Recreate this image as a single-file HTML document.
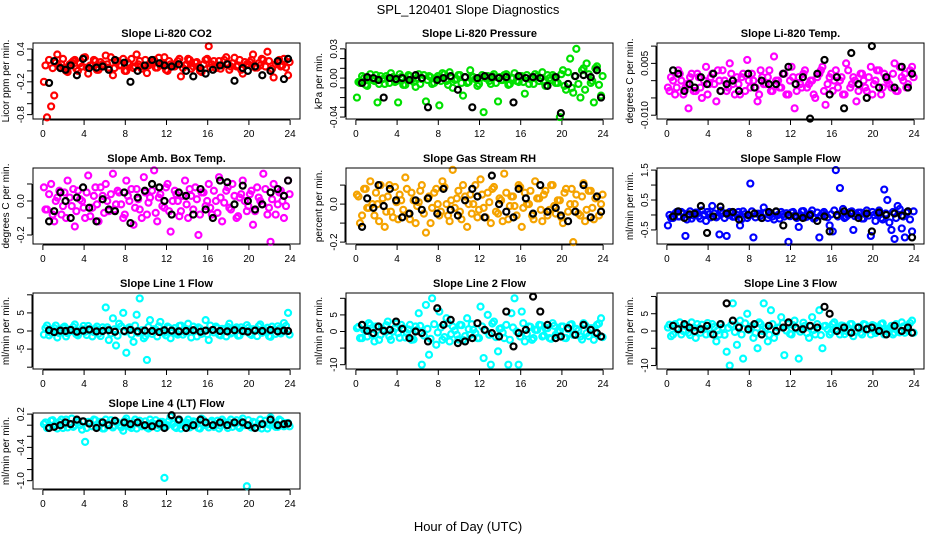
<!DOCTYPE html>
<html><head><meta charset="utf-8">
<style>
body{margin:0;background:#fff;}
svg{display:block;font-family:"Liberation Sans",sans-serif;}
</style></head>
<body>
<svg id="c" width="936" height="540" viewBox="0 0 936 540">
<text x="468" y="14" text-anchor="middle" font-size="13">SPL_120401  Slope Diagnostics</text>
<text x="468" y="531" text-anchor="middle" font-size="13">Hour of Day (UTC)</text>
</svg>
<script>
const hrs=[0.1,0.4,0.8,1.1,1.4,1.8,2.1,2.4,2.8,3.1,3.4,3.8,4.1,4.4,4.8,5.1,5.4,5.8,6.1,6.4,6.8,7.1,7.4,7.8,8.1,8.4,8.8,9.1,9.4,9.8,10.1,10.4,10.8,11.1,11.4,11.8,12.1,12.4,12.8,13.1,13.4,13.8,14.1,14.4,14.8,15.1,15.4,15.8,16.1,16.4,16.8,17.1,17.4,17.8,18.1,18.4,18.8,19.1,19.4,19.8,20.1,20.4,20.8,21.1,21.4,21.8,22.1,22.4,22.8,23.1,23.4,23.8];
const hrs2=[0.25,0.6,0.95,1.25,1.6,1.95,2.25,2.6,2.95,3.25,3.6,3.95,4.25,4.6,4.95,5.25,5.6,5.95,6.25,6.6,6.95,7.25,7.6,7.95,8.25,8.6,8.95,9.25,9.6,9.95,10.25,10.6,10.95,11.25,11.6,11.95,12.25,12.6,12.95,13.25,13.6,13.95,14.25,14.6,14.95,15.25,15.6,15.95,16.25,16.6,16.95,17.25,17.6,17.95,18.25,18.6,18.95,19.25,19.6,19.95,20.25,20.6,20.95,21.25,21.6,21.95,22.25,22.6,22.95,23.25,23.6,23.95];
const hrsB=[0.6,1.1,1.7,2.2,2.7,3.3,3.9,4.5,5.2,5.8,6.4,7.0,7.9,8.5,9.2,9.9,10.6,11.3,11.8,12.5,13.2,13.9,14.6,15.3,15.8,16.5,17.2,17.9,18.6,19.4,19.9,20.6,21.3,22.1,22.8,23.4,23.8];
const xTicks=[0,4,8,12,16,20,24];
const co2=[-0.2,-0.85,-0.65,-0.45,0.3,0.12,0.05,-0.02,0.15,0.2,0.0,0.08,0.25,-0.05,0.1,0.18,0.02,0.12,0.28,0.06,-0.08,0.15,0.1,0.22,0.0,0.12,0.05,0.3,0.18,0.08,-0.04,0.14,0.2,0.06,0.1,0.25,0.0,0.12,0.08,0.18,-0.1,0.1,0.22,0.04,0.15,0.08,-0.02,0.2,0.45,0.12,0.05,0.18,0.1,0.25,0.02,0.14,0.08,0.2,-0.05,0.12,0.16,0.3,0.06,0.1,0.2,0.35,0.0,-0.12,0.15,0.08,0.22,-0.08];
const co2b=[0.1,0.2,0.05,0.15,0.08,0.22,0.0,0.12,0.18,0.04,0.14,0.24,0.06,0.1,0.2,0.02,0.16,0.08,0.12,0.25,0.05,0.18,0.1,0.0,0.15,0.22,0.08,0.12,0.04,0.2,0.1,0.16,0.06,0.24,0.12,0.02,0.18,0.08,0.14,0.22,0.05,0.12,0.2,0.08,0.16,0.0,0.12,0.22,0.06,0.18,0.1,0.04,0.2,0.14,0.08,0.24,0.1,0.02,0.16,0.12,0.2,0.06,0.14,0.22,0.08,0.18,0.04,0.12,0.2,0.1,0.06,0.16];
const co2B=[-0.22,0.18,0.05,0.02,0.1,-0.08,0.22,0.05,0.06,0.08,0.02,0.2,0.15,-0.2,0.0,0.1,0.2,0.14,0.1,0.08,0.12,0.0,-0.1,0.05,-0.05,0.02,0.1,0.12,-0.18,0.05,0.0,0.08,-0.08,0.0,0.18,-0.15,0.22];
const pres=[-0.02,-0.005,0.0,-0.008,0.004,-0.003,-0.025,0.002,-0.006,0.0,0.005,-0.004,-0.025,0.001,-0.007,0.003,-0.002,-0.009,0.004,-0.001,-0.024,0.002,-0.006,0.0,-0.028,0.005,-0.003,0.006,-0.01,-0.001,0.003,-0.018,-0.005,0.008,0.001,-0.008,0.0,-0.035,0.002,-0.006,0.004,-0.024,-0.002,0.003,-0.007,0.0,0.005,-0.004,0.002,-0.016,-0.006,0.001,0.004,-0.003,0.006,-0.008,0.0,0.003,-0.005,-0.04,0.008,-0.012,0.02,-0.015,0.03,-0.02,0.01,0.015,-0.005,-0.025,0.012,-0.018];
const pres2=[-0.004,0.002,-0.007,0.0,-0.002,0.003,-0.006,-0.001,0.002,-0.005,0.001,-0.003,0.004,-0.007,-0.001,0.002,-0.004,0.0,-0.006,0.003,-0.002,0.001,-0.005,0.002,-0.003,0.004,-0.007,0.0,-0.002,0.003,-0.005,0.001,-0.004,0.002,-0.001,-0.006,0.003,0.0,-0.003,0.002,-0.005,0.001,-0.002,0.004,-0.006,0.0,-0.003,0.002,-0.004,0.003,-0.001,-0.006,0.002,0.0,-0.004,0.003,-0.002,0.001,-0.005,0.004,-0.008,0.006,-0.01,0.002,-0.006,0.008,-0.012,0.004,-0.003,0.01,-0.007,0.002];
const presB=[-0.005,0.001,0.0,-0.002,-0.02,0.0,-0.001,0.0,-0.002,0.003,0.0,-0.03,-0.002,0.0,0.002,-0.012,0.001,-0.03,0.0,0.002,0.001,0.0,0.001,-0.025,0.002,0.0,0.001,0.0,-0.008,0.001,-0.036,-0.006,0.002,0.003,0.001,0.008,-0.02];
const temp=[-0.002,0.001,-0.004,0.003,0.0,-0.002,-0.008,0.002,-0.003,0.001,-0.005,0.004,-0.001,0.002,-0.006,0.0,0.003,-0.003,0.005,-0.001,0.001,-0.004,0.002,0.006,-0.002,0.0,-0.006,0.003,-0.001,0.001,-0.003,0.007,0.0,-0.002,0.002,-0.004,0.004,-0.008,0.001,-0.002,0.003,-0.001,0.0,-0.005,0.002,0.004,-0.007,0.001,-0.003,0.003,0.0,-0.004,0.005,-0.002,0.001,-0.006,0.002,0.0,-0.003,0.004,-0.001,0.003,-0.004,0.002,0.0,-0.002,0.005,-0.003,0.001,0.002,-0.001,0.004];
const temp2=[-0.003,0.0,-0.002,0.002,-0.004,-0.001,0.001,-0.003,0.002,-0.002,0.0,-0.004,0.001,-0.001,0.003,-0.003,0.0,-0.002,0.002,-0.004,-0.001,0.001,-0.003,0.0,0.002,-0.002,-0.004,0.001,-0.001,0.003,-0.003,0.0,-0.002,0.002,-0.004,0.0,0.001,-0.003,-0.001,0.002,-0.002,0.0,-0.004,0.001,0.003,-0.003,-0.001,0.002,0.0,-0.002,0.001,-0.004,0.003,-0.001,0.0,-0.003,0.002,-0.002,0.001,-0.004,0.0,0.003,-0.002,0.001,-0.001,0.002,-0.003,0.004,0.0,-0.002,0.003,0.001];
const tempB=[0.003,0.002,-0.003,-0.001,-0.002,0.001,-0.001,0.002,-0.003,-0.001,0.0,-0.003,0.002,-0.002,0.0,-0.001,-0.001,0.002,0.004,-0.001,0.001,-0.011,0.002,0.006,-0.004,0.001,-0.008,0.008,-0.001,-0.005,0.01,-0.002,0.001,-0.002,0.004,-0.002,0.002];
const amb=[0.08,-0.05,0.1,-0.12,0.02,-0.08,0.05,0.12,-0.03,-0.15,0.06,0.0,-0.1,0.15,-0.04,0.08,-0.12,0.03,0.1,-0.06,0.16,-0.02,0.05,-0.1,0.12,0.0,-0.14,0.07,-0.05,0.14,-0.08,0.02,0.18,-0.12,0.04,-0.04,0.1,-0.18,0.06,0.0,-0.06,0.12,-0.1,0.03,0.08,-0.2,0.05,-0.03,0.1,-0.08,0.0,0.14,-0.12,0.06,-0.04,0.1,-0.1,0.02,0.12,-0.06,0.04,-0.14,0.08,0.0,0.16,-0.08,-0.24,0.1,-0.02,0.06,-0.1,0.12];
const amb2=[-0.05,0.04,-0.08,0.0,0.06,-0.03,-0.1,0.02,0.07,-0.06,0.01,-0.04,0.05,-0.09,0.03,-0.02,0.08,-0.07,0.0,0.04,-0.05,0.06,-0.02,-0.08,0.03,0.07,-0.04,0.01,-0.1,0.05,-0.01,0.06,-0.07,0.02,-0.03,0.08,-0.06,0.0,0.04,-0.09,0.03,-0.02,0.07,-0.05,0.01,-0.08,0.05,0.0,-0.04,0.06,-0.07,0.02,-0.01,0.08,-0.05,0.03,-0.09,0.04,0.0,-0.03,0.06,-0.06,0.02,-0.02,0.07,-0.04,0.01,-0.08,0.05,0.0,-0.03,0.04];
const ambB=[-0.12,-0.06,0.05,0.0,-0.1,0.02,0.08,-0.04,-0.12,0.01,-0.05,-0.06,0.05,-0.13,0.02,0.06,0.1,0.08,0.0,-0.08,0.05,0.03,-0.08,0.07,-0.05,-0.1,0.12,0.11,-0.02,0.09,0.0,-0.05,-0.02,0.05,0.07,0.03,0.12];
const rh=[0.05,-0.1,0.08,-0.02,0.12,-0.06,0.0,0.1,-0.12,0.04,-0.04,0.09,-0.08,0.02,0.14,-0.05,0.06,-0.1,0.01,0.1,-0.15,0.04,-0.02,0.08,-0.06,0.12,0.0,-0.09,0.18,0.03,-0.04,0.1,-0.12,0.05,0.0,-0.07,0.13,-0.02,0.06,-0.1,0.09,-0.05,0.02,0.16,-0.08,0.04,-0.01,0.1,-0.12,0.06,0.0,-0.06,0.12,0.03,-0.09,0.07,-0.03,0.1,-0.05,0.02,-0.1,0.08,0.0,-0.2,0.05,-0.06,0.11,-0.03,0.07,-0.08,0.04,0.0];
const rh2=[0.04,-0.06,0.08,-0.02,0.0,0.06,-0.09,0.03,-0.04,0.1,-0.07,0.01,0.05,-0.03,0.08,-0.08,0.02,-0.01,0.07,-0.05,0.03,-0.1,0.06,0.0,-0.04,0.09,-0.06,0.02,-0.02,0.07,-0.08,0.04,0.0,-0.05,0.1,-0.03,0.05,-0.07,0.01,0.08,-0.04,0.03,-0.09,0.06,-0.01,0.04,-0.06,0.09,-0.02,0.0,0.07,-0.08,0.03,-0.03,0.05,-0.06,0.1,-0.01,0.02,-0.07,0.06,-0.04,0.08,0.0,-0.05,0.04,-0.09,0.07,-0.02,0.03,-0.06,0.05];
const rhB=[-0.12,0.03,-0.02,0.1,-0.01,0.08,0.02,-0.07,-0.05,0.02,-0.03,0.03,-0.05,0.08,-0.03,-0.06,0.02,0.08,0.04,-0.07,0.15,0.0,-0.04,-0.07,0.08,0.03,-0.05,0.1,-0.04,-0.02,-0.06,-0.09,-0.04,0.1,-0.07,0.04,-0.04];
const samp=[-0.35,-0.1,0.05,-0.05,0.1,-0.7,0.0,-0.12,0.08,-0.04,0.15,-0.2,0.02,0.3,-0.08,-0.65,0.05,-0.7,0.1,-0.06,0.0,-0.35,0.12,-0.1,1.05,-0.75,0.04,-0.02,0.25,-0.1,0.06,-0.15,0.0,0.1,-0.05,-0.9,0.08,-0.02,-0.4,0.12,-0.08,0.02,0.15,-0.1,-0.75,0.05,0.0,-0.35,-0.55,1.5,0.9,0.2,-0.06,0.1,-0.5,0.02,0.08,-0.12,0.15,-0.7,0.0,0.05,-0.1,0.85,0.5,-0.5,-0.8,0.3,-0.45,-0.75,0.12,-0.55];
const samp2=[0.0,-0.1,0.1,-0.05,0.05,-0.15,0.12,-0.02,0.08,-0.12,0.02,0.1,-0.08,0.05,-0.03,0.14,-0.1,0.0,0.06,-0.06,0.1,-0.14,0.03,-0.02,0.12,-0.08,0.04,-0.1,0.08,0.0,-0.05,0.11,-0.12,0.02,0.06,-0.04,0.1,-0.1,0.0,0.13,-0.06,0.04,-0.12,0.08,-0.02,0.1,-0.08,0.02,0.15,-0.05,0.06,-0.1,0.0,0.12,-0.04,0.08,-0.12,0.03,-0.02,0.1,-0.2,0.15,-0.15,0.05,-0.25,0.1,-0.1,0.2,-0.05,0.08,-0.15,0.12];
const sampB=[-0.05,0.12,-0.1,0.02,0.04,0.3,-0.6,-0.05,0.28,0.05,0.1,-0.15,0.0,0.05,-0.1,0.1,0.12,-0.35,0.0,-0.05,-0.1,0.0,-0.2,-0.05,-0.55,0.0,0.12,0.05,-0.1,0.05,-0.55,0.08,0.0,0.05,-0.02,0.12,-0.75];
const l1=[-1,1.5,-0.5,0.8,-1.8,0.3,1.2,-0.6,0.0,1.8,-1.2,0.5,-0.2,1.4,-1.5,0.6,-0.8,1.0,6.5,-2.5,3.5,-4,2,5,-6,1,-3,4.5,9,-2,-8,3,0.5,-1.5,2.5,-0.5,1.2,-2,0.8,-1,1.5,-0.3,2,-1.8,0.4,1,-0.8,3,-2.5,0.2,1.2,-1,0.6,-1.5,2,-0.4,1,-1.2,0.3,1.6,-0.8,0.5,-1.4,1.8,-0.2,0.9,-1.6,0.4,1.3,-0.7,2.2,5];
const l1b=[0.8,-1.2,0.2,1.5,-0.6,0.9,-1.5,0.4,1.1,-0.9,0.0,1.4,-1.1,0.6,-0.3,1.2,-1.4,0.3,1.0,-0.7,0.5,-1.3,1.3,-0.2,0.7,-1.0,1.5,-0.5,0.2,-1.4,1.1,-0.8,0.4,1.3,-0.3,-1.2,0.9,0.1,-0.6,1.4,-1.0,0.5,-0.2,1.2,-1.5,0.7,0.0,-0.9,1.5,-0.4,0.8,-1.2,0.3,1.1,-0.7,0.6,-1.3,1.0,-0.1,0.9,-1.1,0.4,1.3,-0.5,0.2,-1.4,1.2,-0.8,0.6,-0.2,1.4,-1.0];
const l1B=[0.2,-0.3,0.1,0.0,0.3,-0.2,0.1,0.4,-0.1,0.0,0.2,-0.2,0.0,0.3,-0.1,0.1,0.0,-0.3,0.2,0.1,-0.1,0.0,0.2,-0.2,0.1,0.3,0.0,-0.1,0.2,0.0,-0.2,0.1,0.0,0.3,-0.1,0.1,0.0];
const l2=[1,-2,0.5,-1.5,2,-3,1.5,-1,0.0,3,-2.5,1,-0.5,2,-1.8,0.6,-2.5,1.5,5.5,-10,8,-7,10,-4,6,-2.5,4,-3,1.5,-1,2,-2.5,4,-1,0.5,-2,7.5,-8,5,-10,3,-6,1,-2,-10,5.5,10,-10,6,-3,1.5,-2.5,0.5,2,-1.5,1,-2,2.5,-1,0.0,1.5,-2,2,-1,0.8,-1.5,2.5,-0.5,1,-2.5,2,4];
const l2b=[1.4,-2,0.3,2.5,-1,1.5,-2.5,0.7,1.9,-1.5,0,2.4,-1.9,1,-0.5,2,-2.4,0.5,1.7,-1.2,0.8,-2.2,2.2,-0.3,1.2,-1.7,2.5,-0.8,0.3,-2.4,1.9,-1.4,0.7,2.2,-0.5,-2,1.5,0.2,-1,2.4,-1.7,0.8,-0.3,2,-2.5,1.2,0,-1.5,2.5,-0.7,1.4,-2,0.5,1.9,-1.2,1,-2.2,1.7,-0.2,1.5,-1.9,0.7,2.2,-0.8,0.3,-2.4,2,-1.4,1,-0.3,2.4,-1.7];
const l2B=[2,0.2,-0.5,1.5,0.2,0.5,3,0.8,-2,0,-0.5,-3,7,2,3.5,-3.5,-3,-2,2.5,0.5,-0.5,-1.5,6,-4.5,-0.5,0.5,10.5,6,2,-2,-1.5,1,-1,2,0.5,-0.5,-1.5];
const l3=[1,-1.5,2,0.5,-1,1.5,-0.5,2.5,-2,0.8,1.8,-1,0.5,2,-3,-1,1,-6,-10,8,-4,3,-8,5,1,-2,-5,2,8,-3,6,-2,1,4,-7,2,-1,3,-8,0.5,1.5,-2,4,-1,6,-5,1.5,-1,2,0.5,-1,1.5,0,2,-1.5,1,-0.5,2,0.5,-1,1.5,0.0,2,-1,0.5,1.5,-0.5,1,2.5,-0.5,1.5,3];
const l3b=[1.8,-1,0.8,2.5,0,1.5,-1.2,1,2,-0.5,0.5,2.3,-0.8,1.2,0.2,2,-1.1,0.9,1.8,-0.3,1.3,-1,2.2,0.3,1.4,-0.6,2.5,0,0.8,-1.1,2,-0.4,1,2.3,0.1,-0.8,1.7,0.6,-0.2,2.4,-0.6,1.3,0.3,2,-1.2,1.4,0.5,-0.4,2.5,0.1,1.6,-0.9,0.9,2,-0.3,1.2,-1,1.8,0.4,1.7,-0.6,1,2.2,0,0.8,-1,2,-0.4,1.3,0.3,2.3,-0.5];
const l3B=[1.5,0.5,2,1,0,0.5,1.5,-1,2,8,3,1,0.5,2,-1,1.5,0,1,2.5,1,0.5,1.5,1,7,5,0,1,-0.5,1,0.5,1,0,-1,1.5,0,1,-0.5];
const l4=[0.02,-0.05,0.08,0.0,-0.06,0.1,0.03,-0.04,0.12,0.0,0.05,-0.08,-0.3,0.06,-0.02,0.09,0.0,-0.06,0.1,0.03,-0.04,0.07,0.0,-0.1,0.12,-0.02,0.05,-0.06,0.08,0.0,-0.04,0.1,0.02,-0.05,0.06,-0.95,0.0,0.15,-0.03,0.08,-0.06,0.04,0.1,-0.02,0.06,-0.05,0.12,0.0,-0.04,0.08,0.02,-0.06,0.1,0.0,0.05,-0.03,0.09,-0.05,0.12,-1.1,0.0,0.06,-0.04,0.1,0.02,-0.06,0.14,0.0,-0.03,0.08,-0.02,0.04];
const l4b=[0.05,-0.04,0.09,0.0,0.06,-0.05,0.1,0.02,-0.03,0.08,0.0,0.07,-0.05,0.04,0.1,-0.02,0.06,-0.06,0.03,0.09,-0.01,0.05,-0.04,0.08,0.01,-0.05,0.1,0.03,-0.02,0.07,-0.06,0.04,0.09,0.0,0.06,-0.03,0.08,0.02,-0.05,0.1,0.0,0.05,-0.04,0.07,0.02,-0.06,0.09,0.01,0.05,-0.03,0.08,-0.01,0.06,-0.05,0.1,0.03,-0.02,0.07,0.0,0.09,-0.04,0.05,0.02,-0.06,0.08,0.01,0.06,-0.03,0.1,0.0,0.04,-0.02];
const l4B=[-0.05,-0.03,0.0,0.05,0.02,0.1,0.07,0.03,-0.05,0.05,0.0,0.08,0.05,0.02,0.05,0.0,-0.02,0.03,-0.05,0.18,0.1,-0.05,0.0,0.1,0.05,0.0,0.05,0.0,0.05,0.05,0.0,-0.05,0.02,0.1,0.0,0.02,0.03];

const NS='http://www.w3.org/2000/svg';
const svg=document.getElementById('c');
function mk(tag,attrs,parent){const e=document.createElementNS(NS,tag);for(const k in attrs)e.setAttribute(k,attrs[k]);(parent||svg).appendChild(e);return e;}
const colL=[33,346,657],rowT=[43,168,293,413],W=267,H=76,XMIN=-0.96,XMAX=24.96;
const panels=[
 {t:'Slope Li-820 CO2',yl:'Licor ppm per min.',c:'#ff0000',v:co2,v2:co2b,b:co2B,lo:-0.88,hi:0.51,ticks:[0.4,0.2,0,-0.2,-0.4,-0.6,-0.8],labs:[[0.4,'0.4'],[-0.2,'-0.2'],[-0.8,'-0.8']]},
 {t:'Slope Li-820 Pressure',yl:'kPa per min.',c:'#00e000',v:pres,v2:pres2,b:presB,lo:-0.042,hi:0.036,ticks:[0.03,0.02,0.01,0,-0.01,-0.02,-0.03,-0.04],labs:[[0.03,'0.03'],[0,'0.00'],[-0.04,'-0.04']]},
 {t:'Slope Li-820 Temp.',yl:'degrees C per min.',c:'#ff00ff',v:temp,v2:temp2,b:tempB,lo:-0.0111,hi:0.0109,ticks:[0.01,0.005,0,-0.005,-0.01],labs:[[0.005,'0.005'],[-0.01,'-0.010']]},
 {t:'Slope Amb. Box Temp.',yl:'degrees C per min.',c:'#ff00ff',v:amb,v2:amb2,b:ambB,lo:-0.253,hi:0.194,ticks:[0.1,0,-0.1,-0.2],labs:[[0,'0.0'],[-0.2,'-0.2']]},
 {t:'Slope Gas Stream RH',yl:'percent per min.',c:'#f5a300',v:rh,v2:rh2,b:rhB,lo:-0.21,hi:0.19,ticks:[0.1,0,-0.1,-0.2],labs:[[0,'0.0'],[-0.2,'-0.2']]},
 {t:'Slope Sample Flow',yl:'ml/min per min.',c:'#0000ff',v:samp,v2:samp2,b:sampB,lo:-0.97,hi:1.57,ticks:[1.5,1,0.5,0,-0.5],labs:[[1.5,'1.5'],[0.5,'0.5'],[-0.5,'-0.5']]},
 {t:'Slope Line 1 Flow',yl:'ml/min per min.',c:'#00ffff',v:l1,v2:l1b,b:l1B,lo:-10.5,hi:10.5,ticks:[10,5,0,-5,-10],labs:[[5,'5'],[0,'0'],[-5,'-5']]},
 {t:'Slope Line 2 Flow',yl:'ml/min per min.',c:'#00ffff',v:l2,v2:l2b,b:l2B,lo:-11.3,hi:11.6,ticks:[10,5,0,-5,-10],labs:[[5,'5'],[0,'0'],[-10,'-10']]},
 {t:'Slope Line 3 Flow',yl:'ml/min per min.',c:'#00ffff',v:l3,v2:l3b,b:l3B,lo:-11,hi:11,ticks:[10,5,0,-5,-10],labs:[[5,'5'],[0,'0'],[-10,'-10']]},
 {t:'Slope Line 4 (LT) Flow',yl:'ml/min per min.',c:'#00ffff',v:l4,v2:l4b,b:l4B,lo:-1.15,hi:0.22,ticks:[0.2,0,-0.2,-0.4,-0.6,-0.8,-1.0],labs:[[0.2,'0.2'],[-0.4,'-0.4'],[-1.0,'-1.0']]}
];
panels.forEach((p,i)=>{
  const L=colL[i%3],T=rowT[Math.floor(i/3)];
  const g=mk('g',{});
  
  
  const xs=x=>L+(x-XMIN)/(XMAX-XMIN)*W;
  const ys=y=>T+H-(y-p.lo)/(p.hi-p.lo)*H;
  const tt=mk('text',{x:L+W/2,y:T-6,'text-anchor':'middle','font-size':11,'font-weight':'bold'},g);tt.textContent=p.t;
  
  
  const yl=mk('text',{x:0,y:0,'text-anchor':'middle','font-size':10,transform:`translate(${L-24},${T+H/2}) rotate(-90)`},g);yl.textContent=p.yl;
  
  
  mk('line',{x1:xs(0),x2:xs(24),y1:T+H+1,y2:T+H+1,stroke:'#000'},g);
  xTicks.forEach(v=>{mk('line',{x1:xs(v),x2:xs(v),y1:T+H+1,y2:T+H+6,stroke:'#000'},g);
    const tl=mk('text',{x:xs(v),y:T+H+18,'text-anchor':'middle','font-size':10},g);tl.textContent=v;
    
    });
  const t0=p.ticks[0],t1=p.ticks[p.ticks.length-1];
  mk('line',{x1:L-1,x2:L-1,y1:ys(t0),y2:ys(t1),stroke:'#000'},g);
  p.ticks.forEach(v=>mk('line',{x1:L-6,x2:L-1,y1:ys(v),y2:ys(v),stroke:'#000'},g));
  p.labs.forEach(([v,s])=>{const tl=mk('text',{x:0,y:0,'text-anchor':'middle','font-size':10,transform:`translate(${L-9},${ys(v)}) rotate(-90)`},g);tl.textContent=s;
    
    });
  const n=Math.min(hrs.length,p.v.length);
  for(let k=0;k<n;k++){const c=mk('circle',{cx:xs(hrs[k]),cy:ys(p.v[k]),r:3,fill:'none',stroke:p.c,'stroke-width':2.2},g);
    
    }
  const n2=Math.min(hrs2.length,p.v2.length);
  for(let k=0;k<n2;k++){const c=mk('circle',{cx:xs(hrs2[k]),cy:ys(p.v2[k]),r:3,fill:'none',stroke:p.c,'stroke-width':2.2},g);
    
    }
  const m=Math.min(hrsB.length,p.b.length);
  for(let k=0;k<m;k++){const c=mk('circle',{cx:xs(hrsB[k]),cy:ys(p.b[k]),r:3,fill:'none',stroke:'#000','stroke-width':2.2},g);
    
    }
  const bx=mk('rect',{x:L,y:T,width:W,height:H,fill:'none',stroke:'#000','stroke-width':1},g);
  
  
});
</script>
</body></html>
